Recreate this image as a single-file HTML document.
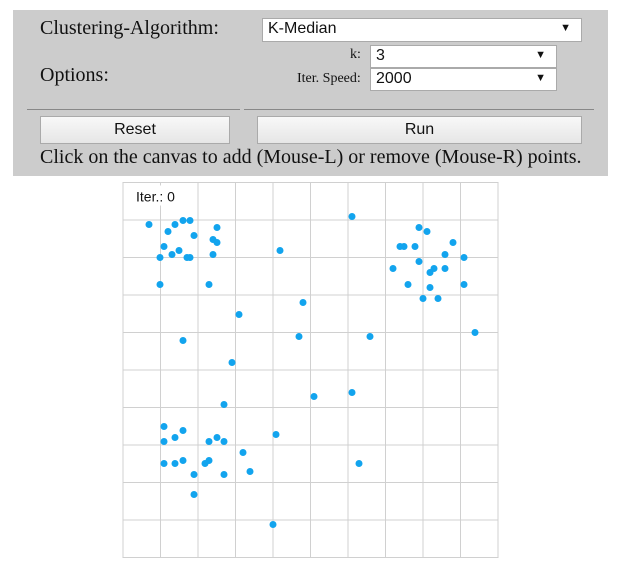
<!DOCTYPE html>
<html><head><meta charset="utf-8"><style>
body{margin:0;width:620px;height:570px;background:#fff;position:relative;overflow:hidden}
.p{position:absolute}
.panel{left:13px;top:10px;width:595px;height:166px;background:#cccccc}
.lbl{font-family:"Liberation Serif",serif;color:#111}
.sel{background:#fff;border:1px solid #aaa;font-family:"Liberation Sans",sans-serif;font-size:16px;color:#111;box-sizing:border-box;padding:1px 5px}
.sel span.a{position:absolute;right:10px;top:3px;font-size:11px}
.btn{background:linear-gradient(#f8f8f8,#e6e6e6);border:1px solid #aaa;box-sizing:border-box;font-family:"Liberation Sans",sans-serif;font-size:16px;text-align:center;line-height:25px;color:#111}
.hr{height:1px;background:#888}
</style></head><body>
<div class="p panel"></div>
<div class="p lbl" style="left:40px;top:17px;font-size:20px">Clustering-Algorithm:</div>
<div class="p sel" style="left:262px;top:18px;width:320px;height:24px">K-Median<span class="a">▼</span></div>
<div class="p lbl" style="left:40px;top:64px;font-size:20px">Options:</div>
<div class="p lbl" style="left:350px;top:47px;font-size:14px">k:</div>
<div class="p sel" style="left:370px;top:45px;width:187px;height:23px">3<span class="a">▼</span></div>
<div class="p lbl" style="left:297px;top:71px;font-size:14px">Iter. Speed:</div>
<div class="p sel" style="left:370px;top:68px;width:187px;height:23px">2000<span class="a">▼</span></div>
<div class="p hr" style="left:27px;top:109px;width:213px"></div>
<div class="p hr" style="left:244px;top:109px;width:350px"></div>
<div class="p btn" style="left:40px;top:116px;width:190px;height:28px">Reset</div>
<div class="p btn" style="left:257px;top:116px;width:325px;height:28px">Run</div>
<div class="p lbl" style="left:40px;top:146px;font-size:20px">Click on the canvas to add (Mouse-L) or remove (Mouse-R) points.</div>
<svg class="p" style="left:0;top:0" width="620" height="570" id="chart"></svg>
<script>
const xs=[26,45,52,60,67,71,94,90,94,41,49,56,37,64,67,90,37,86,157,229,296,304,277,281,292,330,322,341,296,270,311,322,307,285,341,307,300,315,180,116,176,247,352,60,109,191,229,101,41,60,52,41,86,94,101,153,120,41,52,60,82,86,236,71,101,127,71,150];
const ys=[42,49,42,38,38,53,45,57,60,64,72,68,75,75,75,72,102,102,68,34,45,49,64,64,64,60,72,75,79,86,86,86,90,102,102,105,116,116,120,132,154,154,150,158,180,214,210,222,244,248,255,259,259,255,259,252,270,281,281,278,281,278,281,292,292,289,312,342];
const gridTicks=[0,1,2,3,4,5,6,7,8,9,10];
const iterLabel="Iter.: 0";
const X0=123,Y0=182.5,S=375;
const sx=v=>X0+v*S/375, sy=v=>Y0+v*S/375, gs=t=>t*S/10;
const svg=document.getElementById('chart');
const NS='http://www.w3.org/2000/svg';
function mk(t,a){const e=document.createElementNS(NS,t);for(const k in a)e.setAttribute(k,a[k]);svg.appendChild(e);return e;}
const bg=mk('rect',{x:X0,y:Y0,width:S,height:S,fill:'#fff',stroke:'#ccc'});


gridTicks.forEach(t=>{
  const v=mk('line',{x1:X0+gs(t),x2:X0+gs(t),y1:Y0,y2:Y0+S,stroke:'#d0d0d0','stroke-width':1});
  
  
  const h=mk('line',{x1:X0,x2:X0+S,y1:Y0+gs(t),y2:Y0+gs(t),stroke:'#d0d0d0','stroke-width':1});
  
  
});
const lab=mk('rect',{x:X0+8,y:Y0+3,width:55,height:20,fill:'#fff'});


const tx=mk('text',{x:X0+13,y:Y0+19,'font-family':'Liberation Sans, sans-serif','font-size':14,fill:'#111'});
tx.textContent=iterLabel;


xs.forEach((x,i)=>{
  const c=mk('circle',{cx:sx(x),cy:sy(ys[i]),r:3.5,fill:'#12a4ee'});
  
  
});
</script>
</body></html>
